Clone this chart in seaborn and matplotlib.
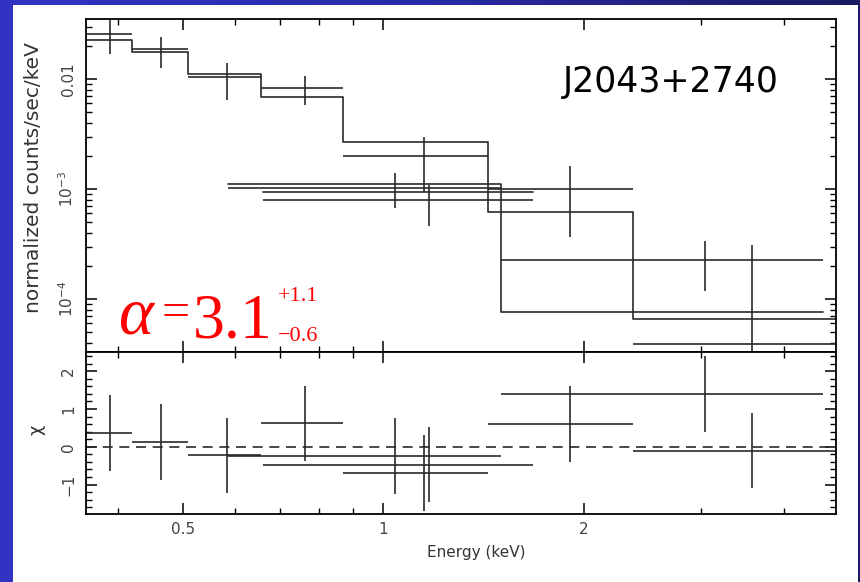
import numpy as np
import matplotlib
matplotlib.use("Agg")
import matplotlib.pyplot as plt
from matplotlib.patches import Rectangle
from matplotlib.colors import LinearSegmentedColormap
from matplotlib.ticker import (FixedLocator, FixedFormatter, MultipleLocator,
                               NullFormatter, LogLocator)
import seaborn as sns

# ---------------- data ----------------
# dataset 1: bin edges (keV), data, errors, model, residuals
ds1_edges = [0.358, 0.419, 0.510, 0.655, 0.869, 1.435, 2.373, 4.78]
ds1_data = [0.02564, 0.01862, 0.01036, 0.00834, 0.00198, 0.000994, 3.87e-5]
ds1_upper = [0.0344, 0.02424, 0.01406, 0.01071, 0.002989, 0.001618, 0.00031]
ds1_lower = [0.01677, 0.01251, 0.00644, 0.00580, 0.000945, 0.000364, 1e-6]
ds1_model = [0.02285, 0.01749, 0.0111, 0.00686, 0.00269, 0.000622, 6.53e-5]
ds1_chi = [0.36, 0.13, -0.23, 0.62, -0.69, 0.60, -0.10]

# dataset 2
ds2_edges = [0.584, 1.502, 4.567]
ds2_data = [0.001015, 0.000226]
ds2_upper = [0.00139, 0.000339]
ds2_lower = [0.000668, 0.000119]
ds2_model = [0.00111, 7.57e-5]
ds2_chi = [-0.25, 1.39]

# dataset 3
ds3_edges = [0.659, 1.680]
ds3_data = [0.000794]
ds3_upper = [0.001087]
ds3_lower = [0.000464]
ds3_model = [0.000945]
ds3_chi = [-0.47]

x_major = [0.5, 1, 2]
x_major_labels = ["0.5", "1", "2"]
x_minor = [0.4, 0.6, 0.7, 0.8, 0.9, 3, 4]
y_top_major = [0.01, 1e-3, 1e-4]
y_top_labels = ["0.01", r"$10^{-3}$", r"$10^{-4}$"]
y_bot_major = [-1, 0, 1, 2]
y_bot_labels = ["\u22121", "0", "1", "2"]

title_text = "J2043+2740"
ylabel_top = "normalized counts/sec/keV"
ylabel_bot = "\u03c7"
xlabel = "Energy (keV)"

# ---------------- style ----------------
sns.set_style("ticks")
plt.rcParams["font.family"] = ["DejaVu Sans"]
plt.rcParams["mathtext.fontset"] = "dejavusans"

LINE = "#2a2a2a"
TXT = "#444444"
W, H = 860, 582

fig = plt.figure(figsize=(W / 100, H / 100), dpi=100)
fig.patch.set_facecolor("#2a2aa8")

# gradient slide background
bg = fig.add_axes([0, 0, 1, 1], zorder=-10)
grad = np.linspace(0, 1, 256)[None, :]
cmap = LinearSegmentedColormap.from_list("bg", ["#3434c4", "#2a2aa6", "#1a1a62"])
bg.imshow(grad, aspect="auto", cmap=cmap, extent=[0, 1, 0, 1])
bg.set_axis_off()
fig.add_artist(Rectangle((13 / W, 0), (858 - 13) / W, (582 - 5) / H,
                         transform=fig.transFigure, facecolor="white",
                         edgecolor="none", zorder=-5))

ax1 = fig.add_axes([86 / W, 1 - 352 / H, 750 / W, 333 / H])
ax2 = fig.add_axes([86 / W, 1 - 514 / H, 750 / W, 162 / H], sharex=ax1)


def centers(edges):
    e = np.asarray(edges)
    return (e[:-1] + e[1:]) / 2, (e[1:] - e[:-1]) / 2


def draw_set(edges, data, lower, upper, model, chi):
    xc, xh = centers(edges)
    d = np.asarray(data)
    yerr = [d - np.asarray(lower), np.asarray(upper) - d]
    ax1.errorbar(xc, d, xerr=xh, yerr=yerr, fmt="none", ecolor=LINE,
                 elinewidth=1.2, capsize=0)
    ystep = list(model) + [model[-1]]
    sns.lineplot(x=edges, y=ystep, ax=ax1, drawstyle="steps-post",
                 color=LINE, linewidth=1.2, estimator=None, sort=False)
    ax2.errorbar(xc, chi, xerr=xh, yerr=np.ones(len(chi)), fmt="none",
                 ecolor=LINE, elinewidth=1.2, capsize=0)


ax1.set_xscale("log")
ax1.set_yscale("log")

draw_set(ds1_edges, ds1_data, ds1_lower, ds1_upper, ds1_model, ds1_chi)
draw_set(ds2_edges, ds2_data, ds2_lower, ds2_upper, ds2_model, ds2_chi)
draw_set(ds3_edges, ds3_data, ds3_lower, ds3_upper, ds3_model, ds3_chi)

ax2.axhline(0, color=LINE, linewidth=1.2, linestyle=(0, (6, 4)))

ax1.set_xlim(0.358, 4.78)
ax1.set_ylim(3.30e-5, 0.0351)
ax2.set_ylim(-1.778, 2.508)

for ax in (ax1, ax2):
    for s in ax.spines.values():
        s.set_visible(True)
        s.set_color("black")
        s.set_linewidth(1.3)
    ax.tick_params(which="both", direction="in", top=True, right=True,
                   color="black", labelcolor=TXT, labelsize=11)
    ax.tick_params(which="major", length=8, width=1.1)
    ax.tick_params(which="minor", length=4, width=1.0)
    ax.set_xlabel("")
    ax.set_ylabel("")

ax1.xaxis.set_major_locator(FixedLocator(x_major))
ax1.xaxis.set_minor_locator(FixedLocator(x_minor))
ax1.xaxis.set_major_formatter(FixedFormatter(x_major_labels))
ax1.xaxis.set_minor_formatter(NullFormatter())
ax1.tick_params(axis="x", which="both", labelbottom=False)
ax2.tick_params(axis="x", which="both", labelbottom=True, pad=6)

ax1.yaxis.set_major_locator(FixedLocator(y_top_major))
ax1.yaxis.set_major_formatter(FixedFormatter(y_top_labels))
ax1.yaxis.set_minor_locator(LogLocator(base=10, subs=np.arange(2, 10)))
ax1.yaxis.set_minor_formatter(NullFormatter())

ax2.yaxis.set_major_locator(FixedLocator(y_bot_major))
ax2.yaxis.set_major_formatter(FixedFormatter(y_bot_labels))
ax2.yaxis.set_minor_locator(MultipleLocator(0.2))

for ax in (ax1, ax2):
    ax.tick_params(axis="y", labelrotation=90, pad=7)
    for lbl in ax.get_yticklabels():
        lbl.set_va("center")

# axis titles
fig.text(34 / W, 1 - 178 / H, ylabel_top, rotation=90, ha="center",
         va="center", fontsize=14.5, color="#333333")
fig.text(37 / W, 1 - 430 / H, ylabel_bot, rotation=90, ha="center",
         va="center", fontsize=13, color="#333333")
fig.text(476 / W, 1 - 553 / H, xlabel, ha="center", va="center",
         fontsize=11, color="#333333")

# source name
fig.text(563 / W, 1 - 82 / H, title_text, ha="left", va="center",
         fontsize=25, color="black")

# alpha annotation
RED = "#ff0000"
serif = ["Liberation Serif", "DejaVu Serif"]
fig.text(118 / W, 1 - 333 / H, "\u03b1", family=serif, style="italic",
         fontsize=48, color=RED, ha="left", va="baseline")
fig.text(162 / W, 1 - 326 / H, "=", family=serif, fontsize=36, color=RED,
         ha="left", va="baseline")
fig.text(193 / W, 1 - 338 / H, "3.1", family=serif, fontsize=46, color=RED,
         ha="left", va="baseline")
fig.text(278 / W, 1 - 301 / H, "+1.1", family=serif, fontsize=16, color=RED,
         ha="left", va="baseline")
fig.text(278 / W, 1 - 341 / H, "\u22120.6", family=serif, fontsize=16,
         color=RED, ha="left", va="baseline")

fig.savefig("out.png", dpi=100, facecolor=fig.get_facecolor())
